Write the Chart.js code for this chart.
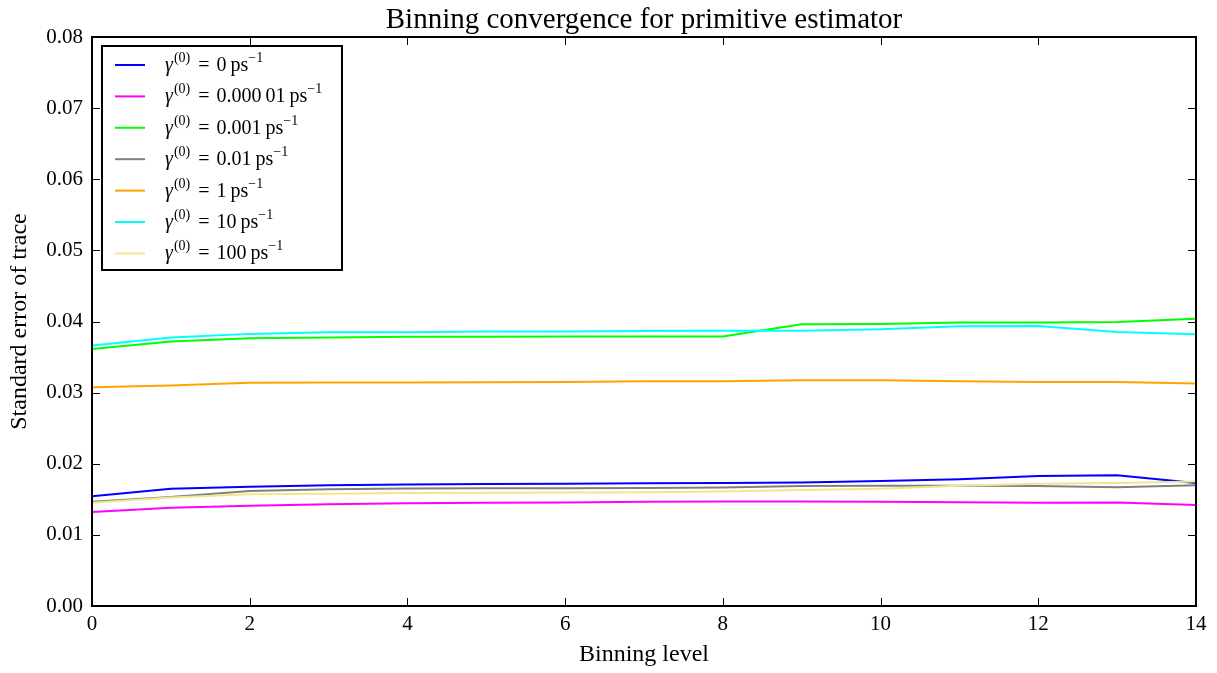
<!DOCTYPE html>
<html>
<head>
<meta charset="utf-8">
<script src="https://cdn.jsdelivr.net/npm/chart.js@4.4.1/dist/chart.umd.min.js"></script>
<style>
  html, body { margin: 0; padding: 0; background: #fff; }
  #wrap { width: 1217px; height: 673px; }
</style>
</head>
<body>
<div id="wrap"><canvas id="c" width="1217" height="673"></canvas></div>
<script>
var binLevels = [0, 1, 2, 3, 4, 5, 6, 7, 8, 9, 10, 11, 12, 13, 14];
var xTickValues = [0, 2, 4, 6, 8, 10, 12, 14];
var yTickValues = [0, 0.01, 0.02, 0.03, 0.04, 0.05, 0.06, 0.07, 0.08];

// friction values gamma^(0), in ps^-1
var gammaValues = ['0', '0.000\u200901', '0.001', '0.01', '1', '10', '100'];
var lineColors = ['#0000ff', '#ff00ff', '#00ff00', '#808080', '#ffa500', '#00ffff', '#f0e68c'];

var errGamma0 = [0.01543, 0.0165, 0.01678, 0.01697, 0.0171, 0.01716, 0.0172, 0.01726, 0.0173, 0.01735, 0.01758, 0.01782, 0.01828, 0.01838, 0.0173];
var errGamma00001 = [0.01322, 0.01383, 0.01411, 0.0143, 0.01445, 0.0145, 0.01455, 0.01465, 0.01468, 0.01468, 0.01465, 0.0146, 0.01453, 0.01455, 0.0142];
var errGamma0001 = [0.03615, 0.03718, 0.03765, 0.03775, 0.03785, 0.03786, 0.03788, 0.03788, 0.0379, 0.03962, 0.03966, 0.03985, 0.03985, 0.03994, 0.04037];
var errGamma001 = [0.01467, 0.01533, 0.01617, 0.01641, 0.01652, 0.01655, 0.01657, 0.0166, 0.01667, 0.01688, 0.0169, 0.0169, 0.01688, 0.0167, 0.01697];
var errGamma1 = [0.03076, 0.031, 0.0314, 0.03142, 0.03142, 0.03145, 0.03148, 0.0316, 0.0316, 0.03174, 0.03174, 0.0316, 0.0315, 0.0315, 0.03127];
var errGamma10 = [0.03661, 0.03774, 0.03826, 0.0385, 0.0385, 0.0386, 0.0386, 0.03868, 0.0387, 0.0387, 0.0389, 0.03934, 0.03938, 0.03854, 0.0382];
var errGamma100 = [0.01453, 0.01525, 0.0157, 0.01579, 0.01589, 0.01592, 0.01595, 0.01598, 0.0161, 0.0163, 0.0165, 0.0169, 0.0172, 0.0173, 0.0175];

var series = [errGamma0, errGamma00001, errGamma0001, errGamma001, errGamma1, errGamma10, errGamma100];

var SERIF = '"Liberation Serif", "Times New Roman", serif';
var TITLE = 'Binning convergence for primitive estimator';

// title centred over the plot area, not the whole canvas
var plotTitle = {
    id: 'plotTitle',
    afterDraw: function (chart) {
        var ctx = chart.ctx, a = chart.chartArea;
        ctx.save();
        ctx.fillStyle = '#000';
        ctx.font = '29px ' + SERIF;
        ctx.textAlign = 'center';
        ctx.textBaseline = 'alphabetic';
        ctx.fillText(TITLE, (a.left + a.right) / 2, a.top - 9);
        ctx.restore();
    }
};

// inward ticks on all four sides plus the black frame
var frameTicks = {
    id: 'frameTicks',
    afterDatasetsDraw: function (chart) {
        var ctx = chart.ctx, a = chart.chartArea;
        var xs = chart.scales.x, ys = chart.scales.y;
        ctx.save();
        ctx.strokeStyle = '#000';
        ctx.lineWidth = 1;
        ctx.beginPath();
        xs.ticks.forEach(function (t) {
            var px = Math.round(xs.getPixelForValue(t.value)) + 0.5;
            ctx.moveTo(px, a.bottom); ctx.lineTo(px, a.bottom - 8);
            ctx.moveTo(px, a.top); ctx.lineTo(px, a.top + 8);
        });
        ys.ticks.forEach(function (t) {
            var py = Math.round(ys.getPixelForValue(t.value)) + 0.5;
            ctx.moveTo(a.left, py); ctx.lineTo(a.left + 8, py);
            ctx.moveTo(a.right, py); ctx.lineTo(a.right - 8, py);
        });
        ctx.stroke();
        ctx.lineWidth = 2;
        ctx.strokeRect(a.left, a.top, a.right - a.left, a.bottom - a.top);
        ctx.restore();
    }
};

// legend with gamma^(0) = value ps^-1 labels
var mathLegend = {
    id: 'mathLegend',
    afterDraw: function (chart) {
        var ctx = chart.ctx, a = chart.chartArea;
        var x0 = a.left + 10, y0 = a.top + 9, w = 240, h = 224;
        ctx.save();
        ctx.fillStyle = '#fff';
        ctx.fillRect(x0, y0, w, h);
        ctx.strokeStyle = '#000';
        ctx.lineWidth = 2;
        ctx.strokeRect(x0, y0, w, h);
        ctx.textBaseline = 'alphabetic';
        ctx.textAlign = 'left';
        chart.data.datasets.forEach(function (ds, i) {
            var y = y0 + 19 + i * 31.4;
            ctx.strokeStyle = ds.borderColor;
            ctx.lineWidth = 2;
            ctx.beginPath();
            ctx.moveTo(x0 + 13, y);
            ctx.lineTo(x0 + 43, y);
            ctx.stroke();

            var base = y + 6;
            var tx = x0 + 63;
            ctx.fillStyle = '#000';
            ctx.font = 'italic 20px ' + SERIF;
            ctx.fillText('\u03b3', tx, base);
            tx += ctx.measureText('\u03b3').width + 1;
            ctx.font = '14px ' + SERIF;
            ctx.fillText('(0)', tx, base - 9);
            tx += ctx.measureText('(0)').width + 8;
            ctx.font = '20px ' + SERIF;
            ctx.fillText('=', tx, base);
            tx += ctx.measureText('=').width + 7;
            ctx.fillText(gammaValues[i], tx, base);
            tx += ctx.measureText(gammaValues[i]).width + 4;
            ctx.fillText('ps', tx, base);
            tx += ctx.measureText('ps').width;
            ctx.font = '14px ' + SERIF;
            ctx.fillText('\u22121', tx, base - 9);
        });
        ctx.restore();
    }
};

var datasets = series.map(function (vals, i) {
    return {
        label: gammaValues[i],
        data: vals,
        borderColor: lineColors[i],
        backgroundColor: lineColors[i],
        borderWidth: 2,
        pointRadius: 0,
        tension: 0,
        fill: false,
        order: series.length - i
    };
});

new Chart(document.getElementById('c').getContext('2d'), {
    type: 'line',
    data: { labels: binLevels, datasets: datasets },
    options: {
        responsive: false,
        animation: false,
        devicePixelRatio: 1,
        layout: { padding: { left: 0, right: 21, top: 37, bottom: 0 } },
        plugins: {
            legend: { display: false },
            tooltip: { enabled: false },
            title: { display: false }
        },
        scales: {
            x: {
                type: 'linear',
                min: 0,
                max: 14,
                afterBuildTicks: function (scale) {
                    scale.ticks = xTickValues.map(function (v) { return { value: v }; });
                },
                afterFit: function (scale) { scale.height = 67; },
                ticks: {
                    color: '#000',
                    font: { family: SERIF, size: 21 },
                    padding: 6,
                    maxRotation: 0,
                    autoSkip: false,
                    callback: function (v) { return String(v); }
                },
                grid: { display: false, drawTicks: false },
                border: { display: false },
                title: {
                    display: true,
                    text: 'Binning level',
                    color: '#000',
                    font: { family: SERIF, size: 24 },
                    padding: { top: 0, bottom: 4 }
                }
            },
            y: {
                min: 0,
                max: 0.08,
                afterBuildTicks: function (scale) {
                    scale.ticks = yTickValues.map(function (v) { return { value: v }; });
                },
                afterFit: function (scale) { scale.width = 92; },
                ticks: {
                    color: '#000',
                    font: { family: SERIF, size: 21 },
                    padding: 9,
                    callback: function (v) { return v.toFixed(2); }
                },
                grid: { display: false, drawTicks: false },
                border: { display: false },
                title: {
                    display: true,
                    text: 'Standard error of trace',
                    color: '#000',
                    font: { family: SERIF, size: 24 },
                    padding: { top: 5, bottom: 0 }
                }
            }
        }
    },
    plugins: [frameTicks, mathLegend, plotTitle]
});
</script>
</body>
</html>
